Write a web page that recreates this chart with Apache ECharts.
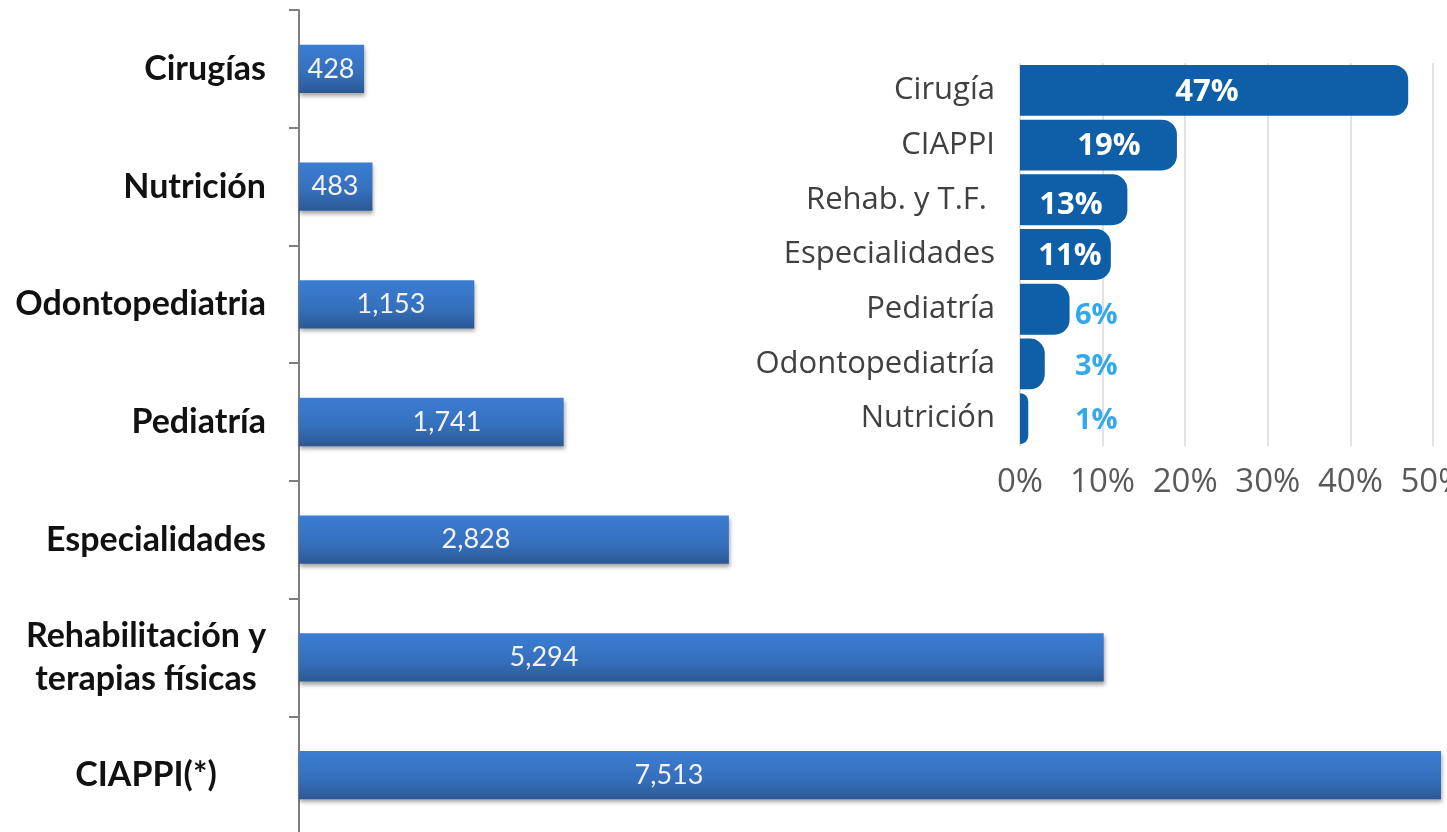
<!DOCTYPE html>
<html>
<head>
<meta charset="utf-8">
<script src="https://cdn.jsdelivr.net/npm/echarts@6/dist/echarts.min.js"></script>
<style>
  html, body { margin: 0; padding: 0; background: #fff; }
  #chart { width: 1447px; height: 832px; }
</style>
</head>
<body>
<div id="chart"></div>
<script>
// totales por servicio (gráfica principal)
const categories = ['Cirugías', 'Nutrición', 'Odontopediatria', 'Pediatría', 'Especialidades', 'Rehabilitación y\nterapias físicas', 'CIAPPI(*)']
const values = [428, 483, 1153, 1741, 2828, 5294, 7513]

// porcentajes (gráfica pequeña)
const pctCategories = ['Cirugía', 'CIAPPI', 'Rehab. y T.F. ', 'Especialidades', 'Pediatría', 'Odontopediatría', 'Nutrición']
const pctValues = [47, 19, 13, 11, 6, 3, 1]

const chart = echarts.init(document.getElementById('chart'))

// donde cae la etiqueta dentro de cada barra (px desde el inicio)
const labelX = [32, 36, 92, 148, 177, 245, 370]
const pctLabelX = [187, 89, 51, 50, 55, 55, 55]

const mainLabel = (name) => {
  if (name.indexOf('\n') >= 0 || name.indexOf('(*)') >= 0) return '{c|' + name + '}'
  return '{r|' + name + '}'
}

const option = {
  backgroundColor: '#ffffff',
  animation: false,
  grid: [
    { left: 299, right: 6, top: 10, bottom: -2, containLabel: false, outerBoundsMode: 'none' },
    { left: 1020, width: 413, top: 63, height: 383, containLabel: false, outerBoundsMode: 'none' }
  ],
  xAxis: [
    {
      type: 'value', gridIndex: 0, min: 0, max: 7513,
      show: false
    },
    {
      type: 'value', gridIndex: 1, min: 0, max: 50, interval: 10,
      axisLine: { show: false },
      axisTick: { show: false },
      splitLine: { show: true, lineStyle: { color: '#d9d9d9', width: 1.5 } },
      axisLabel: {
        formatter: '{value}%', color: '#595959', fontSize: 33,
        fontFamily: 'Open Sans', margin: 20, hideOverlap: false
      }
    }
  ],
  yAxis: [
    {
      type: 'category', gridIndex: 0, data: categories, inverse: true,
      axisLine: { show: true, lineStyle: { color: '#7f7f7f', width: 2 } },
      axisTick: { show: true, inside: false, length: 10, lineStyle: { color: '#7f7f7f', width: 2 } },
      axisLabel: {
        margin: 33,
        align: 'right',
        formatter: mainLabel,
        rich: {
          r: { width: 260, align: 'right', fontSize: 34, fontWeight: 'bold', fontFamily: 'Lato', color: '#111', lineHeight: 43 },
          c: { width: 240, align: 'center', fontSize: 34, fontWeight: 'bold', fontFamily: 'Lato', color: '#111', lineHeight: 43 }
        }
      }
    },
    {
      type: 'category', gridIndex: 1, data: pctCategories, inverse: true,
      axisLine: { show: false },
      axisTick: { show: false },
      axisLabel: { color: '#404040', fontSize: 31, fontFamily: 'Open Sans', margin: 25 }
    }
  ],
  series: [
    {
      type: 'bar',
      xAxisIndex: 0, yAxisIndex: 0,
      barCategoryGap: '59%',
      data: values.map((v, i) => ({
        value: v,
        label: { position: [labelX[i], '50%'] }
      })),
      itemStyle: {
        color: new echarts.graphic.LinearGradient(0, 0, 0, 1, [
          { offset: 0, color: '#3b7dd2' },
          { offset: 0.6, color: '#356fbb' },
          { offset: 1, color: '#2b5895' }
        ]),
        shadowColor: 'rgba(0,0,0,0.35)',
        shadowBlur: 4,
        shadowOffsetX: 1,
        shadowOffsetY: 3
      },
      label: {
        show: true,
        align: 'center',
        verticalAlign: 'middle',
        color: '#f2f2f2',
        fontSize: 27,
        fontFamily: 'Lato',
        formatter: (p) => p.value.toLocaleString('en-US')
      }
    },
    {
      type: 'bar',
      xAxisIndex: 1, yAxisIndex: 1,
      barCategoryGap: '7%',
      data: pctValues.map((v, i) => {
        if (i < 4) return { value: v, label: { position: [pctLabelX[i], i == 2 ? '60%' : '53%'] } }
        return {
          value: v,
          label: { position: [pctLabelX[i], i == 4 ? '62%' : '55%'], align: 'left', color: '#35a8ea', fontSize: 29 }
        }
      }),
      itemStyle: { color: '#0e5fa8', borderRadius: [0, 15, 15, 0] },
      label: {
        show: true,
        align: 'center',
        verticalAlign: 'middle',
        color: '#ffffff',
        fontSize: 31,
        fontWeight: 'bold',
        fontFamily: 'Open Sans',
        formatter: '{c}%'
      }
    }
  ]
}

chart.setOption(option)
</script>
</body>
</html>
